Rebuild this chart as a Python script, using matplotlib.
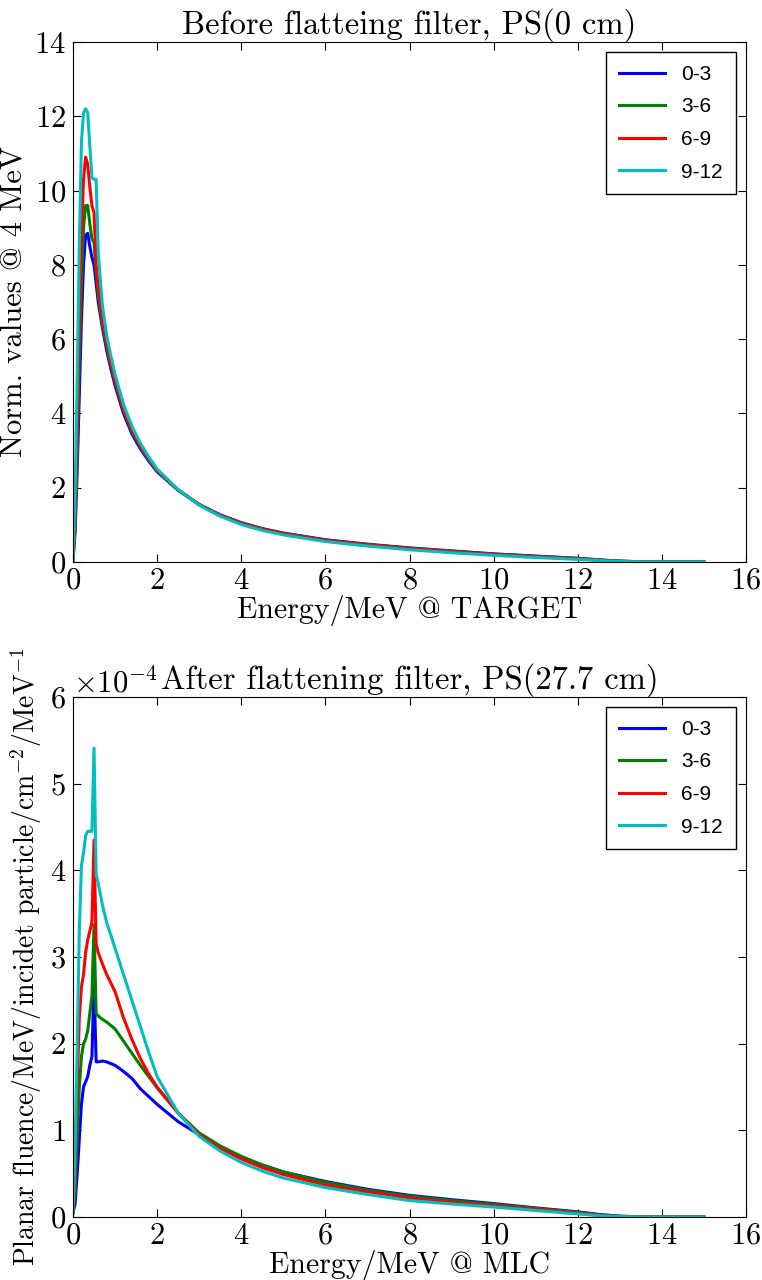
import matplotlib
matplotlib.use("Agg")
import matplotlib.pyplot as plt

# energy grids (MeV)
energy_target = [0, 0.05, 0.1, 0.15, 0.2, 0.25, 0.3, 0.35, 0.4, 0.45, 0.5, 0.55, 0.6, 0.7, 0.8, 0.9,
                 1.0, 1.2, 1.4, 1.6, 1.8, 2.0, 2.5, 3.0, 3.5, 4, 4.5, 5, 6, 7, 8, 9, 10, 11, 12,
                 12.5, 13, 13.5, 14, 15]
energy_mlc = [0, 0.05, 0.1, 0.15, 0.2, 0.25, 0.3, 0.35, 0.4, 0.45, 0.5, 0.55, 0.6, 0.7, 0.8,
              1.0, 1.2, 1.4, 1.6, 1.8, 2.0, 2.5, 3.0, 3.5, 4, 4.5, 5, 6, 7, 8, 9, 10, 11, 12,
              12.5, 13, 13.5, 14, 15]

labels = ["0-3", "3-6", "6-9", "9-12"]
colors = ["b", "g", "r", "c"]
x_ticks = [0, 2, 4, 6, 8, 10, 12, 14, 16]

# before flattening filter (normalised @ 4 MeV)
target_0_3 = [0.05, 0.8, 2.5, 4.5, 6.5, 8.0, 8.8, 8.85, 8.5, 8.2, 8.0, 7.5, 7.0, 6.3, 5.7, 5.2,
              4.75, 4.0, 3.45, 3.05, 2.72, 2.43, 1.93, 1.55, 1.27, 1.06, 0.9, 0.78, 0.6, 0.48,
              0.38, 0.3, 0.22, 0.16, 0.1, 0.06, 0.025, 0.008, 0.002, 0.0]
target_3_6 = [0.05, 1.0, 3.0, 5.5, 7.5, 9.0, 9.6, 9.6, 9.1, 8.7, 8.6, 7.8, 7.2, 6.4, 5.8, 5.3,
              4.85, 4.08, 3.52, 3.1, 2.76, 2.46, 1.94, 1.55, 1.26, 1.05, 0.89, 0.77, 0.59, 0.47,
              0.37, 0.29, 0.21, 0.15, 0.095, 0.055, 0.022, 0.007, 0.002, 0.0]
target_6_9 = [0.05, 1.2, 3.5, 6.5, 8.8, 10.3, 10.9, 10.7, 10.1, 9.6, 9.4, 8.0, 7.4, 6.5, 5.9, 5.35,
              4.9, 4.12, 3.56, 3.13, 2.78, 2.47, 1.94, 1.54, 1.25, 1.04, 0.88, 0.76, 0.58, 0.46,
              0.36, 0.28, 0.2, 0.14, 0.085, 0.05, 0.02, 0.006, 0.001, 0.0]
target_9_12 = [0.05, 1.8, 5.0, 8.5, 11.3, 12.1, 12.2, 12.1, 11.2, 10.35, 10.3, 10.3, 8.3, 6.9, 6.1,
               5.55, 5.05, 4.25, 3.66, 3.2, 2.83, 2.5, 1.95, 1.53, 1.23, 1.01, 0.85, 0.73, 0.55,
               0.43, 0.33, 0.25, 0.18, 0.12, 0.07, 0.04, 0.015, 0.004, 0.001, 0.0]

# after flattening filter (x 1e-4)
mlc_0_3 = [0.05, 0.15, 0.5, 0.9, 1.3, 1.5, 1.56, 1.62, 1.75, 1.85, 2.72, 1.79, 1.79, 1.8, 1.79,
           1.75, 1.68, 1.6, 1.48, 1.39, 1.3, 1.1, 0.95, 0.8, 0.69, 0.6, 0.52, 0.41, 0.32, 0.25,
           0.2, 0.155, 0.105, 0.06, 0.03, 0.01, 0.002, 0.0, 0.0]
mlc_3_6 = [0.05, 0.3, 0.9, 1.5, 1.85, 2.0, 2.05, 2.15, 2.35, 2.55, 3.37, 2.35, 2.32, 2.28, 2.25,
           2.17, 2.03, 1.89, 1.75, 1.62, 1.49, 1.2, 0.97, 0.82, 0.7, 0.6, 0.52, 0.4, 0.31, 0.24,
           0.19, 0.145, 0.1, 0.055, 0.025, 0.008, 0.002, 0.0, 0.0]
mlc_6_9 = [0.05, 0.5, 1.5, 2.3, 2.65, 2.8, 3.05, 3.2, 3.3, 3.4, 4.35, 3.15, 3.05, 2.92, 2.8,
           2.6, 2.3, 2.05, 1.83, 1.65, 1.5, 1.2, 0.95, 0.79, 0.67, 0.57, 0.49, 0.37, 0.29, 0.22,
           0.17, 0.13, 0.09, 0.045, 0.02, 0.005, 0.001, 0.0, 0.0]
mlc_9_12 = [0.05, 0.8, 2.0, 3.3, 4.05, 4.2, 4.4, 4.45, 4.45, 4.45, 5.41, 3.95, 3.85, 3.6, 3.4,
            3.1, 2.8, 2.5, 2.2, 1.9, 1.62, 1.2, 0.93, 0.76, 0.63, 0.53, 0.45, 0.34, 0.26, 0.19,
            0.15, 0.115, 0.075, 0.035, 0.015, 0.004, 0.001, 0.0, 0.0]

target_series = [target_0_3, target_3_6, target_6_9, target_9_12]
mlc_series = [mlc_0_3, mlc_3_6, mlc_6_9, mlc_9_12]

# styling
plt.rcParams["font.family"] = ["cmr10"]
plt.rcParams["mathtext.fontset"] = "cm"
plt.rcParams["axes.formatter.use_mathtext"] = True
plt.rcParams["axes.unicode_minus"] = False
plt.rcParams["font.size"] = 22
plt.rcParams["xtick.direction"] = "in"
plt.rcParams["ytick.direction"] = "in"
plt.rcParams["xtick.top"] = True
plt.rcParams["ytick.right"] = True
plt.rcParams["xtick.major.size"] = 6
plt.rcParams["ytick.major.size"] = 6
plt.rcParams["xtick.major.pad"] = 4
plt.rcParams["ytick.major.pad"] = 5

fig = plt.figure(figsize=(7.62, 12.8), dpi=100)
ax1 = fig.add_axes([73 / 762, 1 - 562 / 1280, 673 / 762, 520 / 1280])
ax2 = fig.add_axes([73 / 762, 1 - 1217 / 1280, 673 / 762, 520 / 1280])

legend_font = {"family": "Liberation Sans", "size": 15}

# before flattening filter
for y, lab, col in zip(target_series, labels, colors):
    ax1.plot(energy_target, y, color=col, lw=2.2, label=lab)
ax1.set_xlim(0, 16)
ax1.set_ylim(0, 14)
ax1.set_xticks(x_ticks)
ax1.set_title("Before flatteing filter, PS(0 cm)", fontsize=23.5, pad=3)
ax1.set_xlabel("Energy/MeV @ TARGET", fontsize=21.5, labelpad=0)
ax1.set_ylabel("Norm. values @ 4 MeV", fontsize=22, labelpad=4)
leg = ax1.legend(loc="upper right", prop=legend_font, fancybox=False, edgecolor="black",
                 framealpha=1, handlelength=2.2, borderpad=0.6, labelspacing=0.65)
leg.get_frame().set_linewidth(1)

# after flattening filter
for y, lab, col in zip(mlc_series, labels, colors):
    ax2.plot(energy_mlc, [v * 1e-4 for v in y], color=col, lw=2.2, label=lab)
ax2.set_xlim(0, 16)
ax2.set_ylim(0, 6e-4)
ax2.set_xticks(x_ticks)
ax2.ticklabel_format(style="sci", axis="y", scilimits=(0, 0))
ax2.set_title("After flattening filter, PS(27.7 cm)", fontsize=23.5, pad=3)
ax2.set_xlabel("Energy/MeV @ MLC", fontsize=21.5, labelpad=0)
ax2.set_ylabel(r"Planar fluence/MeV/incidet particle/cm$^{-2}$/MeV$^{-1}$", fontsize=20, labelpad=4)
ax2.yaxis.get_offset_text().set_fontsize(22)
leg = ax2.legend(loc="upper right", prop=legend_font, fancybox=False, edgecolor="black",
                 framealpha=1, handlelength=2.2, borderpad=0.6, labelspacing=0.65)
leg.get_frame().set_linewidth(1)

fig.savefig("out.png", dpi=100, facecolor="white")
